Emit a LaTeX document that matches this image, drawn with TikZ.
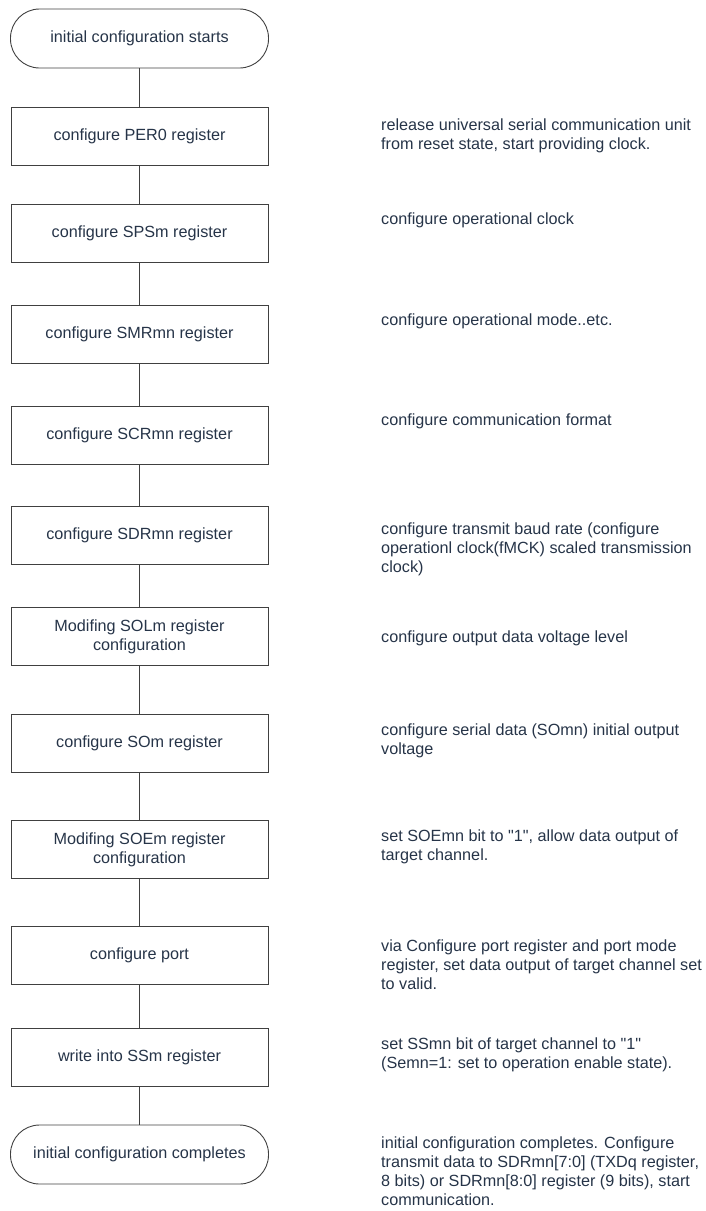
\documentclass[tikz,border=0pt]{standalone}
\usepackage{fontspec}
\setmainfont{Liberation Sans}[Ligatures=TeXOff]
\usepackage{tikz}
\definecolor{txtnavy}{RGB}{38,52,72}
\definecolor{linegray}{RGB}{64,64,64}

\begin{document}
\begin{tikzpicture}[x=1pt, y=-1pt,
	every node/.style={font=\fontsize{16.2}{19}\selectfont, text=txtnavy},
	terminal/.style={draw=linegray, line width=0.9pt, rounded corners=29pt, minimum width=258pt, minimum height=59pt, align=center},
	stepbox/.style={draw=linegray, line width=0.9pt, minimum width=257pt, minimum height=58.5pt, align=center},
	note/.style={anchor=north west, inner sep=0pt, align=left},
	link/.style={draw=linegray, line width=0.9pt}]
	\useasboundingbox (0,0) rectangle (705,1211);
	% flow on the left
	\node[terminal] (start) at (139.5,38.5) {initial configuration starts};
	\node[stepbox] (per) at (139.5,136.5) {configure PER0 register};
	\node[stepbox] (sps) at (139.5,233.5) {configure SPSm register};
	\node[stepbox] (smr) at (139.5,334.5) {configure SMRmn register};
	\node[stepbox] (scr) at (139.5,435.5) {configure SCRmn register};
	\node[stepbox] (sdr) at (139.5,535.5) {configure SDRmn register};
	\node[stepbox] (sol) at (139.5,636.5) {Modifing SOLm register\\configuration};
	\node[stepbox] (so) at (139.5,743.5) {configure SOm register};
	\node[stepbox] (soe) at (139.5,849.5) {Modifing SOEm register\\configuration};
	\node[stepbox] (port) at (139.5,955.5) {configure port};
	\node[stepbox] (ss) at (139.5,1057.5) {write into SSm register};
	\node[terminal] (done) at (139.5,1154.5) {initial configuration completes};
	\draw[link] (start) -- (per);
	\draw[link] (per) -- (sps);
	\draw[link] (sps) -- (smr);
	\draw[link] (smr) -- (scr);
	\draw[link] (scr) -- (sdr);
	\draw[link] (sdr) -- (sol);
	\draw[link] (sol) -- (so);
	\draw[link] (so) -- (soe);
	\draw[link] (soe) -- (port);
	\draw[link] (port) -- (ss);
	\draw[link] (ss) -- (done);
	% notes on the right
	\node[note] (perNote) at (381,119) {release universal serial communication unit\\from reset state, start providing clock.};
	\node[note] (spsNote) at (381,213) {configure operational clock};
	\node[note] (smrNote) at (381,314) {configure operational mode..etc.};
	\node[note] (scrNote) at (381,414) {configure communication format};
	\node[note] (sdrNote) at (381,523) {configure transmit baud rate (configure\\operationl clock(fMCK) scaled transmission\\clock)};
	\node[note] (solNote) at (381,631) {configure output data voltage level};
	\node[note] (soNote) at (381,724) {configure serial data (SOmn) initial output\\voltage};
	\node[note] (soeNote) at (381,830) {set SOEmn bit to "1", allow data output of\\target channel.};
	\node[note] (portNote) at (381,940) {via Configure port register and port mode\\register, set data output of target channel set\\to valid.};
	\node[note] (ssNote) at (381,1038) {set SSmn bit of target channel to "1"\\(Semn=1: set to operation enable state).};
	\node[note] (doneNote) at (381,1137) {initial configuration completes. Configure\\transmit data to SDRmn[7:0] (TXDq register,\\8 bits) or SDRmn[8:0] register (9 bits), start\\communication.};
\end{tikzpicture}
\end{document}
